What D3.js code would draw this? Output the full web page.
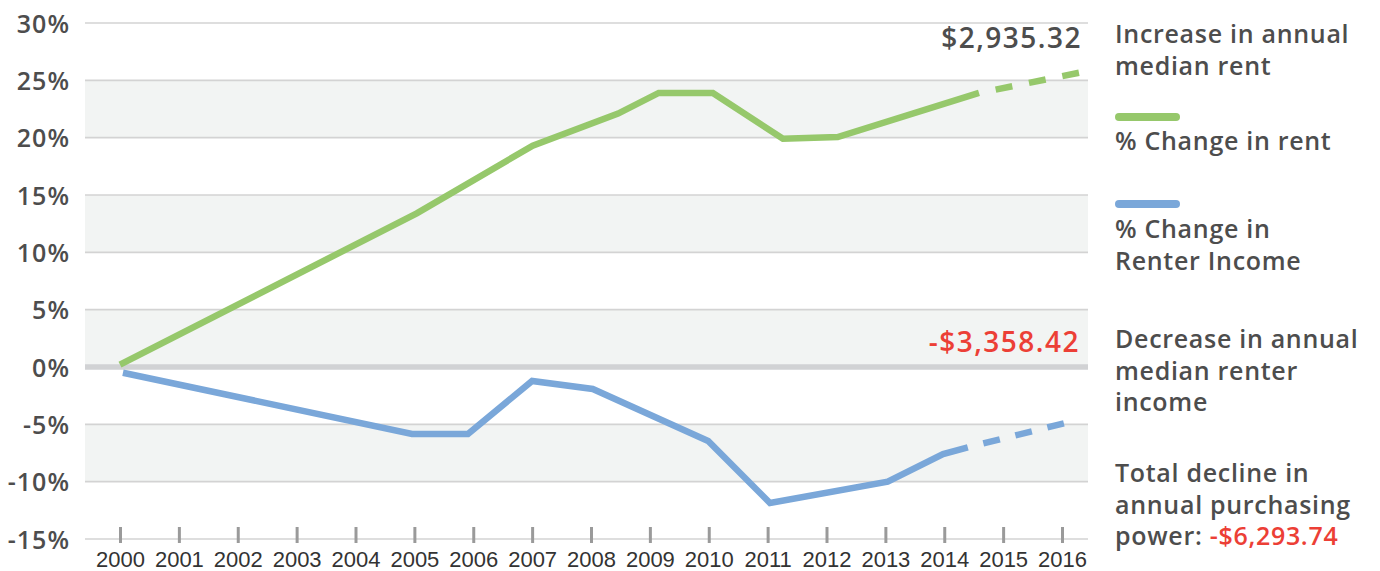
<!DOCTYPE html>
<html>
<head>
<meta charset="utf-8">
<script src="https://cdn.jsdelivr.net/npm/d3@7"></script>
<style>
  html, body { margin: 0; padding: 0; background: #fff; }
  svg { display: block; }
  .txt { font-family: "Open Sans", "Noto Sans", sans-serif; fill: #4d4d4d; font-weight: 600; }
</style>
</head>
<body>
<svg id="chart" width="1380" height="571"></svg>
<script>
// ---- data ----
const years = [2000, 2001, 2002, 2003, 2004, 2005, 2006, 2007, 2008, 2009, 2010, 2011, 2012, 2013, 2014, 2015, 2016];
const yTicks = [-15, -10, -5, 0, 5, 10, 15, 20, 25, 30];
const bandRanges = [[20, 25], [10, 15], [0, 5], [-10, -5]];

// % change in rent (x in year units as drawn, y in %)
const rentX = [2000.0, 2005.04, 2007.01, 2008.46, 2009.15, 2010.07, 2011.26, 2012.19, 2014.59, 2016.42];
const rentY = [0.2, 13.4, 19.3, 22.1, 23.9, 23.9, 19.9, 20.05, 23.9, 25.8];
const rentProjectionFrom = 8;

// % change in renter income
const incomeX = [2000.05, 2004.96, 2005.91, 2007.0, 2008.03, 2009.99, 2011.04, 2013.04, 2013.98, 2014.4, 2016.2];
const incomeY = [-0.5, -5.84, -5.84, -1.22, -1.92, -6.45, -11.86, -10.0, -7.6, -7.0, -4.7];
const incomeProjectionFrom = 9;

const rentAnnotation = "$2,935.32";
const incomeAnnotation = "-$3,358.42";
const legendRent = ["Increase in annual", "median rent"];
const legendRentSeries = "% Change in rent";
const legendIncomeSeries = ["% Change in", "Renter Income"];
const legendIncome = ["Decrease in annual", "median renter", "income"];
const legendTotal = ["Total decline in", "annual purchasing"];
const legendTotalLast = ["power: ", "-$6,293.74"];

// ---- styles ----
const GREEN = "#96c86b", BLUE = "#7aa7d9", RED = "#ec3f36", GRID = "#d3d3d3";

const svg = d3.select("#chart");
const plotLeft = 85, plotRight = 1088;

const x = d3.scaleLinear().domain([2000, 2016]).range([120, 1062]);
const y = d3.scaleLinear().domain([-15, 30]).range([539, 23]);

// bands
svg.append("g").selectAll("rect").data(bandRanges).join("rect")
  .attr("x", plotLeft).attr("width", plotRight - plotLeft)
  .attr("y", d => y(d[1])).attr("height", d => y(d[0]) - y(d[1]))
  .attr("fill", "#f2f4f3");

// gridlines
svg.append("g").selectAll("line").data(yTicks.filter(d => d !== 0)).join("line")
  .attr("x1", plotLeft).attr("x2", plotRight)
  .attr("y1", d => y(d)).attr("y2", d => y(d))
  .attr("stroke", GRID).attr("stroke-width", 1.6);

// zero line
svg.append("line")
  .attr("x1", plotLeft).attr("x2", plotRight)
  .attr("y1", y(0)).attr("y2", y(0))
  .attr("stroke", "#d1d2d4").attr("stroke-width", 5.5);

// y axis labels
const yAxis = d3.axisLeft(y).tickValues(yTicks).tickFormat(d => d + "%").tickSize(0).tickPadding(0);
const gy = svg.append("g").attr("transform", "translate(70,0)").call(yAxis);
gy.select(".domain").remove();
gy.selectAll("text")
  .attr("class", "txt")
  .attr("dy", "0.36em")
  .style("font-size", "25px")
  .style("letter-spacing", "1px")
  .attr("fill", "#4d4d4d");

// x axis
const xAxis = d3.axisBottom(x).tickValues(years).tickFormat(d3.format("d")).tickSize(16).tickPadding(8);
const gx = svg.append("g").attr("transform", "translate(0,527)").call(xAxis);
gx.select(".domain").remove();
gx.selectAll(".tick line").attr("stroke", "#9a9a9a").attr("stroke-width", 3);
gx.selectAll("text")
  .style("font-family", "'Liberation Sans Narrow', 'Arial Narrow', sans-serif")
  .style("font-size", "22px")
  .attr("fill", "#333");

// lines
const line = d3.line().x(d => x(d[0])).y(d => y(d[1]));
function drawSeries(xs, ys, from, color, dash) {
  const pts = xs.map((v, i) => [v, ys[i]]);
  svg.append("path").attr("d", line(pts.slice(0, from + 1)))
    .attr("fill", "none").attr("stroke", color).attr("stroke-width", 6.5)
    .attr("stroke-linejoin", "miter");
  svg.append("path").attr("d", line(pts.slice(from)))
    .attr("fill", "none").attr("stroke", color).attr("stroke-width", 6.5)
    .attr("stroke-dasharray", dash).attr("stroke-dashoffset", 17);
}
drawSeries(rentX, rentY, rentProjectionFrom, GREEN, "17,17");
drawSeries(incomeX, incomeY, incomeProjectionFrom, BLUE, "17,16");

// annotations
svg.append("text").attr("class", "txt").attr("x", 1082).attr("y", 48)
  .attr("text-anchor", "end").style("font-size", "28px").style("letter-spacing", "1.5px")
  .text(rentAnnotation);
svg.append("text").attr("class", "txt").attr("x", 1080).attr("y", 352)
  .attr("text-anchor", "end").style("font-size", "28px").style("letter-spacing", "1.5px")
  .style("fill", RED)
  .text(incomeAnnotation);

// legend
const lx = 1115;
function lines(arr, y0) {
  arr.forEach((t, i) => {
    svg.append("text").attr("class", "txt").attr("x", lx).attr("y", y0 + i * 31.5)
      .style("font-size", "25px").style("letter-spacing", "0.7px").text(t);
  });
}
lines(legendRent, 43);
svg.append("rect").attr("x", lx).attr("y", 113).attr("width", 65).attr("height", 8).attr("rx", 4).attr("fill", GREEN);
lines([legendRentSeries], 150);
svg.append("rect").attr("x", lx).attr("y", 200).attr("width", 65).attr("height", 8).attr("rx", 4).attr("fill", BLUE);
lines(legendIncomeSeries, 238);
lines(legendIncome, 348);
lines(legendTotal, 482);
const last = svg.append("text").attr("class", "txt").attr("x", lx).attr("y", 545)
  .style("font-size", "25px").style("letter-spacing", "0.7px");
last.append("tspan").text(legendTotalLast[0]);
last.append("tspan").style("fill", RED).text(legendTotalLast[1]);
</script>
</body>
</html>
